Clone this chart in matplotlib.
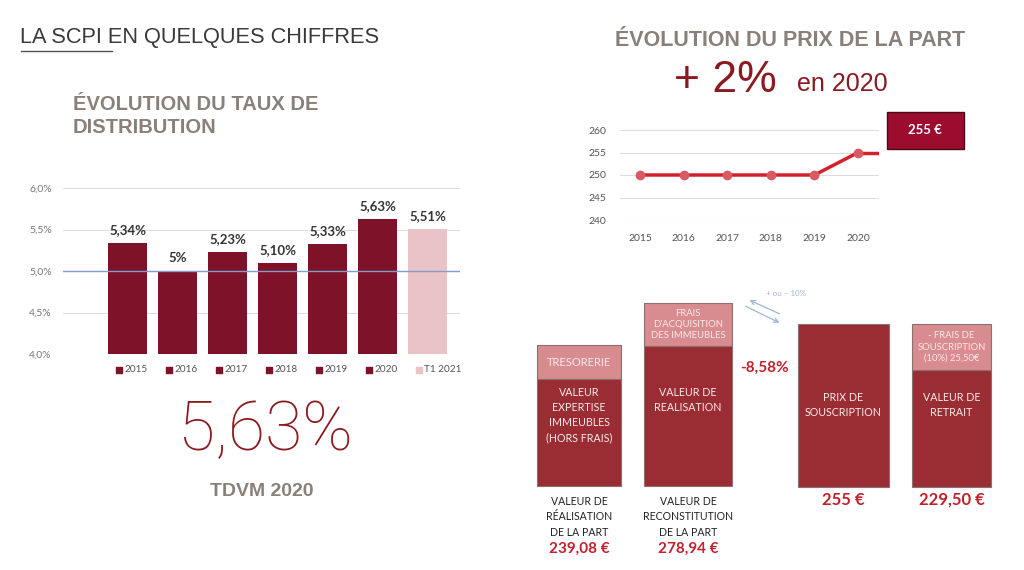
import matplotlib.pyplot as plt
from matplotlib.patches import Rectangle, FancyArrowPatch

# ----------------------------
# Données
# ----------------------------
annees = ['2015', '2016', '2017', '2018', '2019', '2020', 'T1 2021']
taux = [5.34, 5.00, 5.23, 5.10, 5.33, 5.63, 5.51]
taux_labels = ['5,34%', '5%', '5,23%', '5,10%', '5,33%', '5,63%', '5,51%']
taux_ticks = [4.0, 4.5, 5.0, 5.5, 6.0]
taux_tick_labels = ['4,0%', '4,5%', '5,0%', '5,5%', '6,0%']

prix_annees = [2015, 2016, 2017, 2018, 2019, 2020]
prix_part = [250, 250, 250, 250, 250, 255]
prix_ticks = [240, 245, 250, 255, 260]

blocs_haut = ['TRESORERIE', 'FRAIS\nD\'ACQUISITION\nDES IMMEUBLES', None, '- FRAIS DE\nSOUSCRIPTION\n(10%) 25,50€']
blocs_bas = ['VALEUR\nEXPERTISE\nIMMEUBLES\n(HORS FRAIS)', 'VALEUR DE\nREALISATION',
             'PRIX DE\nSOUSCRIPTION', 'VALEUR DE\nRETRAIT']
blocs_legende = ['VALEUR DE\nRÉALISATION\nDE LA PART', 'VALEUR DE\nRECONSTITUTION\nDE LA PART', '', '']
blocs_valeur = ['239,08 €', '278,94 €', '255 €', '229,50 €']

# ----------------------------
# Couleurs
# ----------------------------
DARK = '#7d1228'
PINK = '#e9c3c6'
BOX_DARK = '#9a2d33'
BOX_LIGHT = '#d98c8f'
GREY_TITLE = '#8a807a'
RED_TXT = '#c3202b'

W, H = 1024, 570
fig = plt.figure(figsize=(W / 100, H / 100), dpi=100)
fig.patch.set_facecolor('white')


def px_axes(l, t, r, b):
    return fig.add_axes([l / W, 1 - b / H, (r - l) / W, (b - t) / H])


# calque en pixels pour les textes et le schéma
ov = fig.add_axes([0, 0, 1, 1])
ov.set_xlim(0, W)
ov.set_ylim(H, 0)
ov.axis('off')

ov.text(20, 38, 'LA SCPI EN QUELQUES CHIFFRES', fontsize=15.7, color='#3a3a3a',
        family='Liberation Sans', va='center')
ov.plot([21, 112], [51, 51], color='#555555', lw=1)
ov.text(73, 116, 'ÉVOLUTION DU TAUX DE\nDISTRIBUTION', fontsize=14.5, color=GREY_TITLE,
        family='Liberation Sans', weight='bold', va='center', linespacing=1.3)
ov.text(790, 40, 'ÉVOLUTION DU PRIX DE LA PART', fontsize=15.5, color=GREY_TITLE,
        family='Liberation Sans', weight='bold', va='center', ha='center')
ov.text(674, 80, '+ 2%', fontsize=32, color='#8b1a1f', family='Liberation Sans', va='center')
ov.text(797, 84, 'en 2020', fontsize=18, color='#8b1a1f', family='Liberation Sans', va='center')

ov.text(265, 431, '5,63%', fontsize=49, color='#8b1a1f', family=['Roboto', 'Lato'],
        weight='light', ha='center', va='center')
ov.text(262, 492, 'TDVM 2020', fontsize=14, color=GREY_TITLE, family='Liberation Sans',
        weight='bold', ha='center', va='center')

# ----------------------------
# Graphique barres : taux de distribution
# ----------------------------
ax1 = px_axes(63, 188, 460, 354)
x = list(range(len(annees)))
couleurs = [DARK] * (len(annees) - 1) + [PINK]
ax1.bar(x, taux, width=0.78, color=couleurs, zorder=2)
ax1.set_ylim(4.0, 6.0)
ax1.set_xlim(-1.29, 6.65)
ax1.set_yticks(taux_ticks)
ax1.set_yticklabels(taux_tick_labels, fontsize=7.5, color='#777777', family='Lato')
ax1.set_xticks([])
ax1.tick_params(axis='y', length=0, pad=8)
ax1.grid(axis='y', color='#dddddd', lw=0.8, zorder=0)
ax1.axhline(5.0, color='#7f9fcf', lw=1, zorder=3)
for s in ax1.spines.values():
    s.set_visible(False)
ax1.patch.set_alpha(0)
for xi, v, lab in zip(x, taux, taux_labels):
    ax1.annotate(lab, (xi, v), xytext=(0, 5), textcoords='offset points', ha='center',
                 va='bottom', fontsize=9.5, weight='bold', color='#333333', family='Lato')
tr = ax1.get_xaxis_transform()
for xi, lab, c in zip(x, annees, couleurs):
    ax1.scatter(xi - 0.17, -0.096, marker='s', s=14, color=c, transform=tr, clip_on=False)
    ax1.text(xi - 0.07, -0.096, lab, transform=tr, fontsize=7.2, color='#555555',
             va='center', ha='left', family='Lato')

# ----------------------------
# Graphique ligne : prix de la part
# ----------------------------
ax2 = px_axes(620, 130, 879, 220)
x_fin = 2020.48
ax2.plot([prix_annees[-1], x_fin], [prix_part[-1], prix_part[-1]], color='#d4202c', lw=2.5,
         solid_capstyle='butt', zorder=3)
ax2.plot(prix_annees, prix_part, color='#d4202c', lw=2.5, marker='o', ms=6,
         mfc='#d85a62', mec='#d85a62', zorder=4)
ax2.set_xlim(2014.54, x_fin)
ax2.set_ylim(240, 260)
ax2.set_yticks(prix_ticks)
ax2.set_xticks(prix_annees)
ax2.tick_params(length=0, labelsize=7.5, labelcolor='#555555', pad=10)
for lab in ax2.get_xticklabels() + ax2.get_yticklabels():
    lab.set_family('Lato')
ax2.grid(axis='y', color='#dddddd', lw=0.8, zorder=0)
for s in ax2.spines.values():
    s.set_visible(False)
ax2.patch.set_alpha(0)

ov.add_patch(Rectangle((887, 112), 77, 37, fc='#9c0c2f', ec='#4a0a18', lw=1))
ov.text(925, 130, f'{prix_part[-1]} €', color='white', fontsize=9.5, weight='bold',
        family='Lato', ha='center', va='center')

# ----------------------------
# Schéma des valeurs de la part
# ----------------------------
# (gauche, droite, haut, limite clair/foncé, bas)
geo = [(537, 621, 345, 379, 486), (644, 732, 303, 346, 486),
       (798, 889, 324, 324, 487), (912, 991, 324, 370, 487)]
y_bas_txt = [415, 400, 405, 405]
taille_haut = [8, 6.8, 0, 6.8]
for (l, r, t, m, b), haut, bas, leg, val, yb, fs in zip(geo, blocs_haut, blocs_bas,
                                                         blocs_legende, blocs_valeur,
                                                         y_bas_txt, taille_haut):
    cx = (l + r) / 2
    if haut is not None:
        ov.add_patch(Rectangle((l, t), r - l, m - t, fc=BOX_LIGHT, ec='#8a7070', lw=0.8))
        ov.text(cx, (t + m) / 2, haut, color='#fbeaea', fontsize=fs, family='Lato',
                ha='center', va='center', linespacing=1.35)
    ov.add_patch(Rectangle((l, m), r - l, b - m, fc=BOX_DARK, ec='#8a7070', lw=0.8))
    ov.text(cx, yb, bas, color='#fbeaea', fontsize=7.7, family='Lato',
            ha='center', va='center', linespacing=1.45)
    if leg:
        ov.text(cx, 517, leg, color='#222222', fontsize=7.6, family='Lato',
                ha='center', va='center', linespacing=1.45)
        ov.text(cx, 549, val, color=RED_TXT, fontsize=11, weight='bold', family='Lato',
                ha='center', va='center')
    else:
        ov.text(cx, 500, val, color=RED_TXT, fontsize=12, weight='bold', family='Lato',
                ha='center', va='center')

ov.text(764, 368, '-8,58%', color=RED_TXT, fontsize=11, weight='bold', family='Lato',
        ha='center', va='center')
ov.text(766, 294, '+ ou – 10%', color='#9fb5d6', fontsize=5.8, family='Lato', va='center')
ov.add_patch(FancyArrowPatch((782, 315), (747, 299), arrowstyle='->', mutation_scale=8,
                             color='#9fb5d6', lw=0.9))
ov.add_patch(FancyArrowPatch((743, 305), (782, 324), arrowstyle='->', mutation_scale=8,
                             color='#9fb5d6', lw=0.9))

fig.savefig('out.png', dpi=100, facecolor='white')
